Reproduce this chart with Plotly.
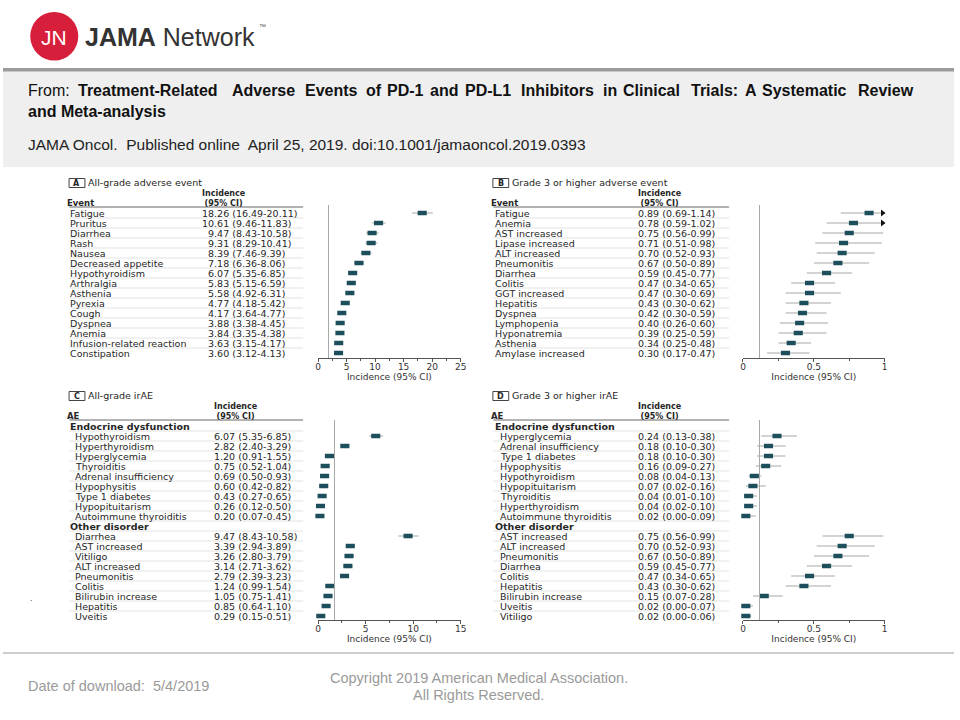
import plotly.graph_objects as go

W, H = 960, 720

# ---------------- data ----------------
a_events = ["Fatigue", "Pruritus", "Diarrhea", "Rash", "Nausea", "Decreased appetite",
            "Hypothyroidism", "Arthralgia", "Asthenia", "Pyrexia", "Cough", "Dyspnea",
            "Anemia", "Infusion-related reaction", "Constipation"]
a_est = [18.26, 10.61, 9.47, 9.31, 8.39, 7.18, 6.07, 5.83, 5.58, 4.77, 4.17, 3.88, 3.84, 3.63, 3.60]
a_lo = [16.49, 9.46, 8.43, 8.29, 7.46, 6.36, 5.35, 5.15, 4.92, 4.18, 3.64, 3.38, 3.35, 3.15, 3.12]
a_hi = [20.11, 11.83, 10.58, 10.41, 9.39, 8.06, 6.85, 6.59, 6.31, 5.42, 4.77, 4.45, 4.38, 4.17, 4.13]

b_events = ["Fatigue", "Anemia", "AST increased", "Lipase increased", "ALT increased",
            "Pneumonitis", "Diarrhea", "Colitis", "GGT increased", "Hepatitis", "Dyspnea",
            "Lymphopenia", "Hyponatremia", "Asthenia", "Amylase increased"]
b_est = [0.89, 0.78, 0.75, 0.71, 0.70, 0.67, 0.59, 0.47, 0.47, 0.43, 0.42, 0.40, 0.39, 0.34, 0.30]
b_lo = [0.69, 0.59, 0.56, 0.51, 0.52, 0.50, 0.45, 0.34, 0.30, 0.30, 0.30, 0.26, 0.25, 0.25, 0.17]
b_hi = [1.14, 1.02, 0.99, 0.98, 0.93, 0.89, 0.77, 0.65, 0.69, 0.62, 0.59, 0.60, 0.59, 0.48, 0.47]

section_names = ["Endocrine dysfunction", "Other disorder"]

c_endo_events = ["Hypothyroidism", "Hyperthyroidism", "Hyperglycemia", "Thyroiditis",
                 "Adrenal insufficiency", "Hypophysitis", "Type 1 diabetes", "Hypopituitarism",
                 "Autoimmune thyroiditis"]
c_endo_est = [6.07, 2.82, 1.20, 0.75, 0.69, 0.60, 0.43, 0.26, 0.20]
c_endo_lo = [5.35, 2.40, 0.91, 0.52, 0.50, 0.42, 0.27, 0.12, 0.07]
c_endo_hi = [6.85, 3.29, 1.55, 1.04, 0.93, 0.82, 0.65, 0.50, 0.45]
c_other_events = ["Diarrhea", "AST increased", "Vitiligo", "ALT increased", "Pneumonitis",
                  "Colitis", "Bilirubin increase", "Hepatitis", "Uveitis"]
c_other_est = [9.47, 3.39, 3.26, 3.14, 2.79, 1.24, 1.05, 0.85, 0.29]
c_other_lo = [8.43, 2.94, 2.80, 2.71, 2.39, 0.99, 0.75, 0.64, 0.15]
c_other_hi = [10.58, 3.89, 3.79, 3.62, 3.23, 1.54, 1.41, 1.10, 0.51]

d_endo_events = ["Hyperglycemia", "Adrenal insufficiency", "Type 1 diabetes", "Hypophysitis",
                 "Hypothyroidism", "Hypopituitarism", "Thyroiditis", "Hyperthyroidism",
                 "Autoimmune thyroiditis"]
d_endo_est = [0.24, 0.18, 0.18, 0.16, 0.08, 0.07, 0.04, 0.04, 0.02]
d_endo_lo = [0.13, 0.10, 0.10, 0.09, 0.04, 0.02, 0.01, 0.02, 0.00]
d_endo_hi = [0.38, 0.30, 0.30, 0.27, 0.13, 0.16, 0.10, 0.10, 0.09]
d_other_events = ["AST increased", "ALT increased", "Pneumonitis", "Diarrhea", "Colitis",
                  "Hepatitis", "Bilirubin increase", "Uveitis", "Vitiligo"]
d_other_est = [0.75, 0.70, 0.67, 0.59, 0.47, 0.43, 0.15, 0.02, 0.02]
d_other_lo = [0.56, 0.52, 0.50, 0.45, 0.34, 0.30, 0.07, 0.00, 0.00]
d_other_hi = [0.99, 0.93, 0.89, 0.77, 0.65, 0.62, 0.28, 0.07, 0.06]

title_words = ["Treatment-Related", "Adverse", "Events", "of", "PD-1", "and", "PD-L1",
               "Inhibitors", "in", "Clinical", "Trials:", "A", "Systematic", "Review"]
title_word_px = [78, 233, 307, 368, 390, 433, 468, 525, 608, 628, 697, 751, 768, 865]

# ---------------- helpers ----------------
def fx(p):
    return p / W


def fy(p):
    return 1 - p / H


FONT = "DejaVu Sans"
HFONT = "Liberation Sans, Arial, sans-serif"
TXT = "#262626"
MARK = "#1d4e5b"
CICOL = "#c4c4c4"
FS = 9.5

fig = go.Figure()
annotations = []
shapes = []


def txt(x, y, text, xref="paper", yref="paper", size=FS, color=TXT, anchor="left",
        family=FONT, yanchor="middle"):
    annotations.append(dict(x=x, y=y, xref=xref, yref=yref, text=text, showarrow=False,
                            xanchor=anchor, yanchor=yanchor, borderpad=0,
                            xshift=-3 if anchor == "left" else 0,
                            font=dict(family=family, size=size, color=color)))


def add_panel(n, letter, title, col_label, groups, xmax, dtick, minor, g, pad=False):
    xa = "x" if n == 1 else f"x{n}"
    ya = "y" if n == 1 else f"y{n}"
    slot = 0
    seg_x, seg_y, mx, my, arx, ary = [], [], [], [], [], []
    for sec, ev, es, lo, hi in groups:
        if sec:
            txt(fx(g["x_sec"]), slot, f"<b>{sec}</b>", yref=ya)
            slot += 1
        for name, v, l, h in zip(ev, es, lo, hi):
            txt(fx(g["x_item"]), slot, name, yref=ya)
            s = f"{v:.2f} ({l:.2f}-{h:.2f})"
            if pad and v < 10:
                s = "\u2007" + s
            txt(fx(g["x_val"]), slot, s, yref=ya)
            seg_x += [l, min(h, xmax), None]
            seg_y += [slot, slot, None]
            mx.append(v)
            my.append(slot)
            if h > xmax:
                arx.append(xmax * 0.985)
                ary.append(slot)
            slot += 1
    nslots = slot
    for i in range(nslots - 1):
        shapes.append(dict(type="line", xref="paper", yref=ya, x0=fx(g["tab_l"]), x1=fx(g["tab_r"]),
                           y0=i + 0.5, y1=i + 0.5, line=dict(color="#dcdcdc", width=0.8)))
    # column header
    shapes.append(dict(type="line", xref="paper", yref="paper", x0=fx(g["tab_l"]), x1=fx(g["tab_r"]),
                       y0=fy(g["hline_y"]), y1=fy(g["hline_y"]), line=dict(color="#666", width=1)))
    txt(fx(g["x_hdr"]), fy(g["ci_y"]), f"<b>{col_label}</b>", size=8.5)
    txt(fx(g["x_val"]), fy(g["ci_y"] - 4.5), "<b>Incidence<br>(95% CI)</b>", size=8)
    # panel label box and title
    bx = g["box_x"]
    ty = g["title_y"]
    shapes.append(dict(type="rect", xref="paper", yref="paper", x0=fx(bx), x1=fx(bx + 16),
                       y0=fy(ty + 4.5), y1=fy(ty - 4.5), line=dict(color="#444", width=1)))
    txt(fx(bx + 8), fy(ty), f"<b>{letter}</b>", anchor="center", size=8)
    txt(fx(bx + 21.5), fy(ty - 0.5), title)

    fig.add_trace(go.Scatter(x=seg_x, y=seg_y, mode="lines", xaxis=xa, yaxis=ya,
                             line=dict(color=CICOL, width=1.5), hoverinfo="skip", showlegend=False))
    fig.add_trace(go.Scatter(x=mx, y=my, mode="markers", xaxis=xa, yaxis=ya, cliponaxis=False,
                             marker=dict(symbol="line-ew", size=6.5, line=dict(width=4.5, color=MARK)),
                             hoverinfo="x", showlegend=False))
    if arx:
        fig.add_trace(go.Scatter(x=arx, y=ary, mode="markers", xaxis=xa, yaxis=ya, cliponaxis=False,
                                 marker=dict(symbol="triangle-right", size=6, color="#111"),
                                 hoverinfo="skip", showlegend=False))

    i_top = (g["ytop"] - g["row0"]) / 10
    i_bot = (g["ybot"] - g["row0"]) / 10
    suffix = "" if n == 1 else str(n)
    fig.update_layout(**{
        f"xaxis{suffix}": dict(
            domain=[fx(g["xdom"][0]), fx(g["xdom"][1])], range=[0, xmax], anchor=ya,
            showline=True, linecolor="#555", linewidth=1, ticks="outside", ticklen=3,
            tickcolor="#555", tick0=0, dtick=dtick, showgrid=False, zeroline=False,
            minor=dict(dtick=minor, tick0=0, ticks="outside", ticklen=2, tickcolor="#555"),
            tickfont=dict(family=FONT, size=9, color="#333"), ticklabelstandoff=-3,
            title=dict(text="Incidence (95% CI)", standoff=0,
                       font=dict(family=FONT, size=9, color="#333")),
            fixedrange=True),
        f"yaxis{suffix}": dict(
            domain=[fy(g["ybot"]), fy(g["ytop"])], range=[i_bot, i_top], anchor="free",
            position=fx(g["yline"]), showline=True, linecolor="#a8a8a8", linewidth=1,
            showticklabels=False, ticks="", showgrid=False, zeroline=False, fixedrange=True),
    })


geomA = dict(xdom=(318, 462), ytop=205, ybot=358, row0=213, yline=328, x_hdr=66.7, x_sec=69.3,
             x_item=69.3, x_val=203.3, tab_l=67, tab_r=303, box_x=66.7, title_y=183,
             inc_y=195, ci_y=203, hline_y=207)
geomB = dict(geomA, xdom=(747, 890), yline=763, x_hdr=495, x_sec=498.3, x_item=498.3,
             x_val=643.3, tab_l=495, tab_r=733, box_x=494.5)
geomC = dict(geomA, ytop=420, ybot=620, row0=426, yline=334, x_sec=69.3, x_item=75, x_val=215,
             title_y=396, inc_y=408, ci_y=416, hline_y=420)
geomD = dict(geomC, xdom=(747, 890), yline=763, x_hdr=495, x_sec=498.3, x_item=503.3,
             x_val=643.3, tab_l=495, tab_r=733, box_x=494.5)

add_panel(1, "A", "All-grade adverse event", "Event",
          [(None, a_events, a_est, a_lo, a_hi)], 25, 5, 2.5, geomA, pad=True)
add_panel(2, "B", "Grade 3 or higher adverse event", "Event",
          [(None, b_events, b_est, b_lo, b_hi)], 1, 0.5, 0.25, geomB)
add_panel(3, "C", "All-grade irAE", "AE",
          [(section_names[0], c_endo_events, c_endo_est, c_endo_lo, c_endo_hi),
           (section_names[1], c_other_events, c_other_est, c_other_lo, c_other_hi)],
          15, 5, 2.5, geomC)
add_panel(4, "D", "Grade 3 or higher irAE", "AE",
          [(section_names[0], d_endo_events, d_endo_est, d_endo_lo, d_endo_hi),
           (section_names[1], d_other_events, d_other_est, d_other_lo, d_other_hi)],
          1, 0.5, 0.25, geomD)

# ---------------- page header ----------------
shapes.append(dict(type="rect", xref="paper", yref="paper", x0=0, x1=1, y0=fy(167), y1=fy(71),
                   fillcolor="#efefef", line=dict(width=0), layer="below"))
shapes.append(dict(type="rect", xref="paper", yref="paper", x0=0, x1=1, y0=fy(71.5), y1=fy(68),
                   fillcolor="#9b9b9b", line=dict(width=0), layer="below"))
shapes.append(dict(type="circle", xref="paper", yref="paper", x0=fx(27.5), x1=fx(76),
                   y0=fy(60.5), y1=fy(12), fillcolor="#d71f3b", line=dict(width=0), layer="below"))
txt(fx(51.7), fy(37), "JN", anchor="center", size=21, color="white", family=HFONT)
txt(fx(85), fy(37), "<b>JAMA</b> Network", size=25, color="#333", family=HFONT)
txt(fx(260), fy(27), "™", size=7, color="#555", family=HFONT)

txt(fx(27), fy(90), "From:", size=16, color="#111", family=HFONT)
for w, p in zip(title_words, title_word_px):
    txt(fx(p), fy(90), f"<b>{w}</b>", size=16, color="#111", family=HFONT)
txt(fx(27), fy(111), "<b>and Meta-analysis</b>", size=16, color="#111", family=HFONT)
txt(fx(27), fy(145), "JAMA Oncol.  Published online  April 25, 2019. doi:10.1001/jamaoncol.2019.0393",
    size=15.5, color="#222", family=HFONT)

# ---------------- footer ----------------
shapes.append(dict(type="line", xref="paper", yref="paper", x0=0, x1=1, y0=fy(653), y1=fy(653),
                   line=dict(color="#bdbdbd", width=1.5)))
txt(fx(27), fy(686), "Date of download:  5/4/2019", size=14.5, color="#9a9a9a", family=HFONT)
txt(0.5, fy(678), "Copyright 2019 American Medical Association.", size=14.5, color="#9a9a9a",
    anchor="center", family=HFONT)
txt(0.5, fy(695), "All Rights Reserved.", size=14.5, color="#9a9a9a", anchor="center", family=HFONT)
txt(fx(29), fy(598), ".", size=9, color="#555", family=HFONT)

fig.update_layout(width=W, height=H, margin=dict(l=0, r=0, t=0, b=0),
                  paper_bgcolor="white", plot_bgcolor="rgba(0,0,0,0)",
                  annotations=annotations, shapes=shapes, showlegend=False,
                  hovermode="closest")

fig.write_html("out.html", config={"displayModeBar": False},
               post_script="document.body.style.margin='0px';document.body.style.overflow='hidden';")
